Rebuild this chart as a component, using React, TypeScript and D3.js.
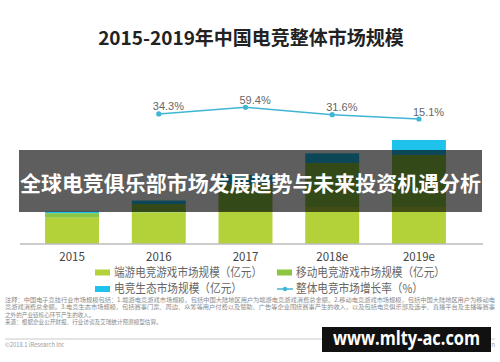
import * as d3 from "d3";

// 亿元
const years = ["2015", "2016", "2017", "2018e", "2019e"];
const pcGame = [250, 299, 314, 352, 352];
const mobileGame = [43, 81, 252, 418, 494];
const ecosystem = [15, 33, 90, 92, 143];
const growthYears = ["2016", "2017", "2018e", "2019e"];
const growth = [34.3, 59.4, 31.6, 15.1];

const seriesNames = [
  "端游电竞游戏市场规模（亿元）",
  "移动电竞游戏市场规模（亿元）",
  "电竞生态市场规模（亿元）",
  "整体电竞市场增长率（%）",
];
const colors = ["#b3d23a", "#8cc541", "#1ec2ea", "#3fb6d4"];

const notes = [
  "注释：中国电子竞技行业市场规模包括：1.端游电竞游戏市场规模，包括中国大陆地区用户为端游电竞游戏消费总金额，2.移动电竞游戏市场规模，包括中国大陆地区用户为移动电",
  "竞游戏消费总金额。3.电竞生态市场规模，包括赛事门票、周边、众筹等用户付费以及赞助、广告等企业围绕赛事产生的收入，以及包括电竞俱乐部及选手、直播平台及主播等赛事",
  "之外的产业链核心环节产生的收入。",
  "来源：根据企业公开财报、行业访谈及艾瑞统计预测模型估算。",
];

const W = 500;
const H = 362;
const cjk = "'Noto Sans CJK SC', 'Noto Sans', sans-serif";

export default function App() {
  const x = d3
    .scaleBand()
    .domain(years)
    .range([28.6, 462.4])
    .paddingInner(0.378)
    .paddingOuter(0.19);
  const y = d3.scaleLinear([0, 1000], [244, 138.8]);
  const yg = d3.scaleLinear([0, 70], [123, 104.5]);

  const rows = years.map((yr, i) => ({
    year: yr,
    pc: pcGame[i],
    mobile: mobileGame[i],
    eco: ecosystem[i],
  }));
  const stack = d3.stack().keys(["pc", "mobile", "eco"])(rows);

  const cx = (yr) => x(yr)! + x.bandwidth() / 2;
  const line = d3
    .line<number>()
    .x((d, i) => cx(growthYears[i]))
    .y((d) => yg(d));

  const legend = [
    { x: 95, y: 272.5, tx: 114, w: 148 },
    { x: 277, y: 272.5, tx: 296, w: 149 },
    { x: 95, y: 289, tx: 114, w: 128 },
    { x: 277, y: 289, tx: 296, w: 127 },
  ];

  return (
    <svg
      width={W}
      height={H}
      style={{ position: "absolute", left: 0, top: 0, background: "#fff" }}
    >
      <text
        x={251}
        y={45}
        textAnchor="middle"
        fontFamily={cjk}
        fontWeight="bold"
        fontSize={19}
        fill="#222"
      >
        2015-2019年中国电竞整体市场规模
      </text>

      {stack.map((s, k) => (
        <g key={k} fill={colors[k]}>
          {s.map((d, i) => (
            <rect
              key={i}
              x={x(years[i])}
              y={y(d[1])}
              width={x.bandwidth()}
              height={y(d[0]) - y(d[1])}
            />
          ))}
        </g>
      ))}

      <line x1={20} x2={483} y1={244} y2={244} stroke="#bbb" strokeWidth={1.5} />
      {years.map((yr) => (
        <text
          key={yr}
          x={cx(yr)}
          y={261}
          textAnchor="middle"
          fontFamily={cjk}
          fontSize={11.5}
          fill="#444"
        >
          {yr}
        </text>
      ))}

      <path d={line(growth)!} fill="none" stroke={colors[3]} strokeWidth={1.5} />
      {growth.map((g, i) => (
        <g key={i}>
          <circle cx={cx(growthYears[i])} cy={yg(g)} r={2.6} fill={colors[3]} />
          <text
            x={cx(growthYears[i]) - 6}
            y={yg(g) - 3.5}
            fontFamily="'Liberation Sans', Arial, sans-serif"
            fontSize={11}
            fill="#666"
          >
            {g}%
          </text>
        </g>
      ))}

      {legend.map((l, i) => (
        <g key={i}>
          {i < 3 ? (
            <rect x={l.x} y={l.y - 3} width={15} height={6} fill={colors[i]} />
          ) : (
            <g>
              <line x1={l.x} x2={l.x + 16} y1={l.y} y2={l.y} stroke={colors[3]} strokeWidth={1.5} />
              <circle cx={l.x + 8} cy={l.y} r={2.2} fill={colors[3]} />
            </g>
          )}
          <text
            x={l.tx}
            y={l.y + 4.3}
            fontFamily={cjk}
            fontSize={12}
            fill="#666"
            textLength={l.w}
            lengthAdjust="spacingAndGlyphs"
          >
            {seriesNames[i]}
          </text>
        </g>
      ))}

      {notes.map((n, i) => (
        <text
          key={i}
          x={5}
          y={302 + i * 7.3}
          fontFamily={cjk}
          fontSize={5.6}
          fill="#888"
          textLength={i < 2 ? 490 : undefined}
          lengthAdjust="spacingAndGlyphs"
        >
          {n}
        </text>
      ))}
      <line x1={5} x2={495} y1={339} y2={339} stroke="#bbb" strokeWidth={0.8} />
      <text x={5} y={347} fontFamily={cjk} fontSize={5.8} fill="#999">
        ©2018.1 iResearch Inc
      </text>
      <text x={495} y={347} textAnchor="end" fontFamily={cjk} fontSize={5.8} fill="#999">
        www.iresearch.com.cn
      </text>

      {/* overlay banner */}
      <rect x={19} y={150} width={463} height={62} fill="#000" opacity={0.63} />
      <text
        x={250.5}
        y={191}
        textAnchor="middle"
        fontFamily={cjk}
        fontWeight="bold"
        fontSize={21}
        fill="#fff"
        textLength={461}
        lengthAdjust="spacingAndGlyphs"
      >
        全球电竞俱乐部市场发展趋势与未来投资机遇分析
      </text>

      <rect x={322} y={327} width={169} height={25} fill="#111" />
      <text
        x={406.5}
        y={345}
        textAnchor="middle"
        fontFamily="'Open Sans', 'DejaVu Sans', sans-serif"
        fontWeight="bold"
        fontSize={19}
        fill="#fff"
        textLength={147}
        lengthAdjust="spacingAndGlyphs"
      >
        www.mlty-ac.com
      </text>
    </svg>
  );
}
